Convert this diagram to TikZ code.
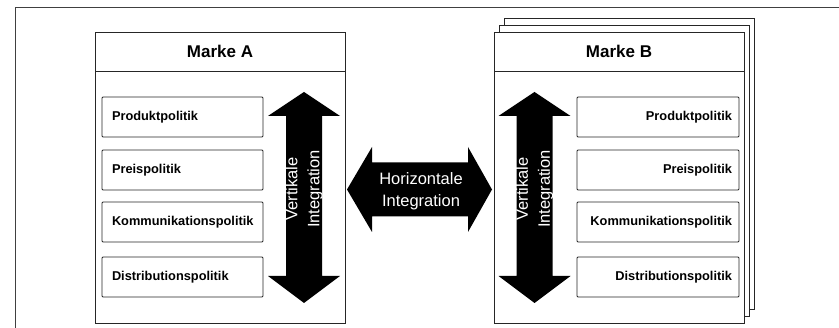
\documentclass[tikz,border=0pt]{standalone}
\usepackage{fontspec}
\setmainfont{Liberation Sans}
\usepackage{tikz}
\tikzstyle{marke}=[x=1pt, y=-1pt, line width=0.9pt]
\tikzstyle{rahmen}=[draw=black!75, line width=0.8pt]
\tikzstyle{blatt}=[draw=black!85, fill=white]
\tikzstyle{kopf}=[rectangle, draw=black!85, fill=white, minimum width=250pt, minimum height=39pt, font=\fontsize{17}{20}\selectfont\bfseries]
\tikzstyle{rumpf}=[rectangle, draw=black!85, fill=white, minimum width=250pt, minimum height=252pt]
\tikzstyle{instr}=[rectangle, draw=black!85, fill=white, rounded corners=1pt, minimum height=40pt, inner ysep=0pt, font=\fontsize{12.8}{15}\selectfont\bfseries]
\tikzstyle{links}=[instr, inner xsep=10pt, text width=141pt, align=left]
\tikzstyle{rechts}=[instr, inner xsep=7pt, text width=148pt, align=right]
\tikzstyle{pfeil}=[fill=black]
\tikzstyle{ptext}=[text=white, inner sep=0pt, align=center, font=\fontsize{16.5}{22}\selectfont]

\begin{document}
\begin{tikzpicture}[marke]
	\useasboundingbox (0,0) rectangle (839,328);
	
	%The outer frame
	\draw[rahmen] (15,335) -- (15,7) -- (845,7);
	
	%Marke A
	\draw (220,51.5) node[kopf] (kopfA) {Marke A};
	\draw (220,197) node[rumpf] (rumpfA) {};
	\draw (182.5,117) node[links] (prodA) {Produktpolitik};
	\draw (182.5,170) node[links] (preisA) {Preispolitik};
	\draw (182.5,222) node[links] (kommA) {Kommunikationspolitik};
	\draw (182.5,277) node[links] (distA) {Distributionspolitik};
	
	%The vertical arrow of A
	\fill[pfeil] (304,92) -- (340,116) -- (322,116) -- (322,276) -- (340,276) -- (304,303)
		-- (268,276) -- (286,276) -- (286,116) -- (268,116) -- cycle;
	\draw (304,189) node[ptext, rotate=90] (vertA) {Vertikale\\Integration};
	
	%The horizontal arrow
	\fill[pfeil] (347,189.5) -- (372,147) -- (372,162.5) -- (468,162.5) -- (468,147) -- (492,189.5)
		-- (468,232) -- (468,216.5) -- (372,216.5) -- (372,232) -- cycle;
	\draw (421,191) node[ptext] (horiz) {Horizontale\\Integration};
	
	%Marke B, with the pages behind it
	\draw[blatt] (504,18) rectangle (754,309);
	\draw[blatt] (499,25) rectangle (749,316);
	\draw (619,51.5) node[kopf] (kopfB) {Marke B};
	\draw (619,197) node[rumpf] (rumpfB) {};
	\draw (658,117) node[rechts] (prodB) {Produktpolitik};
	\draw (658,170) node[rechts] (preisB) {Preispolitik};
	\draw (658,222) node[rechts] (kommB) {Kommunikationspolitik};
	\draw (658,277) node[rechts] (distB) {Distributionspolitik};
	
	%The vertical arrow of B
	\fill[pfeil] (534.5,92) -- (570.5,116) -- (552.5,116) -- (552.5,276) -- (570.5,276) -- (534.5,303)
		-- (498.5,276) -- (516.5,276) -- (516.5,116) -- (498.5,116) -- cycle;
	\draw (534.5,189) node[ptext, rotate=90] (vertB) {Vertikale\\Integration};
\end{tikzpicture}
\end{document}
